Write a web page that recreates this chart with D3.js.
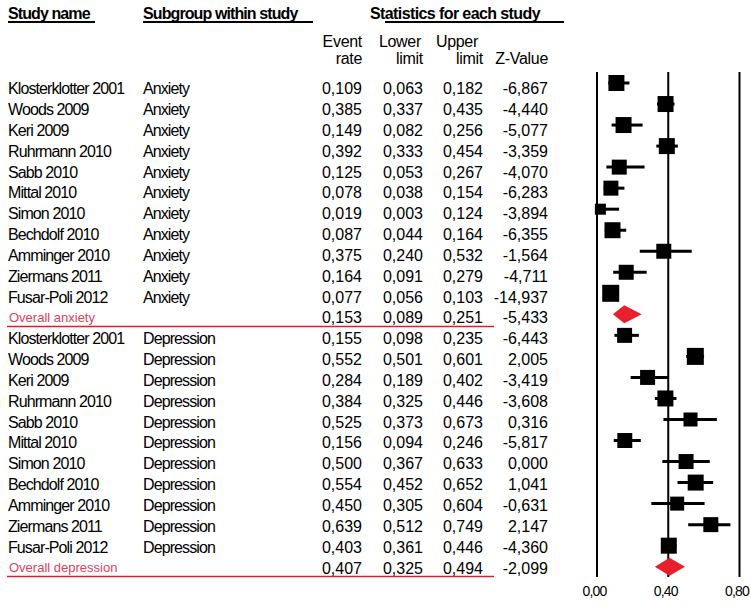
<!DOCTYPE html>
<html>
<head>
<meta charset="utf-8">
<script src="https://cdn.jsdelivr.net/npm/d3@7"></script>
<style>
  html, body { margin: 0; padding: 0; background: #fff; }
  svg { display: block; font-family: "Liberation Sans", Arial, sans-serif; }
</style>
</head>
<body>
<svg id="chart" width="750" height="605"></svg>
<script>
// ---------- data ----------
const studyNames = ["Klosterklotter 2001","Woods 2009","Keri 2009","Ruhrmann 2010","Sabb 2010","Mittal 2010","Simon 2010","Bechdolf 2010","Amminger 2010","Ziermans 2011","Fusar-Poli 2012"];
const subgroups = ["Anxiety","Depression"];
const overallLabels = ["Overall anxiety","Overall depression"];

const anxietyEvent = [0.109,0.385,0.149,0.392,0.125,0.078,0.019,0.087,0.375,0.164,0.077];
const anxietyLower = [0.063,0.337,0.082,0.333,0.053,0.038,0.003,0.044,0.240,0.091,0.056];
const anxietyUpper = [0.182,0.435,0.256,0.454,0.267,0.154,0.124,0.164,0.532,0.279,0.103];
const anxietyZ     = [-6.867,-4.440,-5.077,-3.359,-4.070,-6.283,-3.894,-6.355,-1.564,-4.711,-14.937];
const anxietyWeight = [9.9,9.9,9.9,9.9,8.7,8.7,4.7,9.9,8.7,8.7,11.2];
const anxietyOverall = {event:0.153, lower:0.089, upper:0.251, z:-5.433};

const depressionEvent = [0.155,0.552,0.284,0.384,0.525,0.156,0.500,0.554,0.450,0.639,0.403];
const depressionLower = [0.098,0.501,0.189,0.325,0.373,0.094,0.367,0.452,0.305,0.512,0.361];
const depressionUpper = [0.235,0.601,0.402,0.446,0.673,0.246,0.633,0.652,0.604,0.749,0.446];
const depressionZ     = [-6.443,2.005,-3.419,-3.608,0.316,-5.817,0.000,1.041,-0.631,2.147,-4.360];
const depressionWeight = [8.7,11.2,8.7,9.9,7.6,8.7,8.7,9.9,7.6,8.7,9.9];
const depressionOverall = {event:0.407, lower:0.325, upper:0.494, z:-2.099};

const axisTicks = [0, 0.4, 0.8];
const statHeaders = [["Event","rate"],["Lower","limit"],["Upper","limit"],["","Z-Value"]];

// ---------- build rows ----------
const rows = [];
function addGroup(gi, ev, lo, up, z, w, ov) {
  studyNames.forEach((n, i) => rows.push({type:"study", name:n, sub:subgroups[gi], event:ev[i], lower:lo[i], upper:up[i], z:z[i], weight:w[i]}));
  rows.push({type:"overall", name:overallLabels[gi], event:ov.event, lower:ov.lower, upper:ov.upper, z:ov.z});
}
addGroup(0, anxietyEvent, anxietyLower, anxietyUpper, anxietyZ, anxietyWeight, anxietyOverall);
addGroup(1, depressionEvent, depressionLower, depressionUpper, depressionZ, depressionWeight, depressionOverall);
rows.forEach((r, i) => r.idx = i);

const loc = d3.formatLocale({decimal:",", thousands:".", grouping:[3], currency:["",""], minus:"-"});
const f3 = loc.format(".3f");
const f2 = loc.format(".2f");

// ---------- scales ----------
const svg = d3.select("#chart");
const x = d3.scaleLinear().domain([0, 0.8]).range([597, 739.5]);
const idxs = rows.map(r => r.idx);
const yPlot = d3.scalePoint().domain(idxs).range([83, 566.7]);
const yText = d3.scalePoint().domain(idxs).range([94.3, 573.5]);
const size = d3.scaleSqrt().domain([0, d3.max(rows, r => r.weight || 0)]).range([0, 17]);

// ---------- headers ----------
const hdr = svg.append("g").attr("font-weight", "bold").attr("font-size", 16).attr("letter-spacing", "-0.9px").attr("fill", "#000");
hdr.append("text").attr("x", 8).attr("y", 19).text("Study name");
hdr.append("text").attr("x", 143).attr("y", 19).text("Subgroup within study");
hdr.append("text").attr("x", 370).attr("y", 19).attr("letter-spacing", "-0.6px").text("Statistics for each study");
const ul = [[8, 95], [143, 313], [385, 564]];
svg.selectAll("line.ul").data(ul).join("line").attr("class", "ul")
  .attr("x1", d => d[0]).attr("x2", d => d[1]).attr("y1", 22).attr("y2", 22)
  .attr("stroke", "#000").attr("stroke-width", 1.8);

const colRight = [362, 423, 483, 548];
statHeaders.forEach((h, i) => {
  svg.append("text").attr("x", colRight[i] - (i === 2 ? 5 : i === 1 ? 2 : 0)).attr("y", 47).attr("text-anchor", "end").attr("font-size", 16).attr("letter-spacing", "-0.3px").text(h[0]);
  svg.append("text").attr("x", colRight[i]).attr("y", 63.5).attr("text-anchor", "end").attr("font-size", 16).attr("letter-spacing", "-0.3px").text(h[1]);
});

// ---------- table rows ----------
const tr = svg.append("g").selectAll("g").data(rows).join("g")
  .attr("transform", d => `translate(0,${yText(d.idx)})`);

tr.filter(d => d.type === "study").append("text").attr("x", 8).attr("font-size", 16).attr("letter-spacing", "-0.9px").text(d => d.name);
tr.filter(d => d.type === "study").append("text").attr("x", 143).attr("font-size", 16).attr("letter-spacing", "-0.9px").text(d => d.sub);
tr.filter(d => d.type === "overall").append("text").attr("x", 9).attr("y", -1.5).attr("font-size", 13).attr("fill", "#e0405e").text(d => d.name);
tr.filter(d => d.type === "overall").append("line").attr("x1", 7).attr("x2", 494).attr("y1", 3).attr("y2", 3).attr("stroke", "#d8202e").attr("stroke-width", 1.5);

const numKeys = ["event", "lower", "upper", "z"];
numKeys.forEach((k, i) => {
  tr.append("text").attr("x", colRight[i]).attr("text-anchor", "end").attr("font-size", 16).text(d => f3(d[k]));
});

// ---------- forest plot ----------
const plot = svg.append("g");
plot.selectAll("line.ref").data(axisTicks).join("line").attr("class", "ref")
  .attr("x1", d => x(d)).attr("x2", d => x(d)).attr("y1", 72).attr("y2", 577)
  .attr("stroke", "#000").attr("stroke-width", 2);

const studies = rows.filter(r => r.type === "study");
plot.selectAll("line.ci").data(studies).join("line").attr("class", "ci")
  .attr("x1", d => x(d.lower)).attr("x2", d => x(d.upper))
  .attr("y1", d => yPlot(d.idx)).attr("y2", d => yPlot(d.idx))
  .attr("stroke", "#000").attr("stroke-width", 3);
plot.selectAll("rect.pt").data(studies).join("rect").attr("class", "pt")
  .attr("x", d => x(d.event) - size(d.weight) / 2).attr("y", d => yPlot(d.idx) - size(d.weight) / 2)
  .attr("width", d => size(d.weight)).attr("height", d => size(d.weight))
  .attr("fill", "#000");

const overalls = rows.filter(r => r.type === "overall");
plot.selectAll("path.dia").data(overalls).join("path").attr("class", "dia")
  .attr("d", d => {
    const yc = yPlot(d.idx), h = 9;
    return `M${x(d.lower)},${yc}L${x(d.event)},${yc - h}L${x(d.upper)},${yc}L${x(d.event)},${yc + h}Z`;
  })
  .attr("fill", "#e8202c");

// ---------- axis labels ----------
const axis = d3.axisBottom(x).tickValues(axisTicks).tickSize(0).tickPadding(0).tickFormat(f2);
const ax = svg.append("g").attr("transform", "translate(-3,586)").call(axis);
ax.select(".domain").remove();
ax.selectAll("text").attr("font-size", 14).attr("letter-spacing", "-0.8px").attr("fill", "#000")
  .attr("font-family", "'Liberation Sans', Arial, sans-serif");
</script>
</body>
</html>
